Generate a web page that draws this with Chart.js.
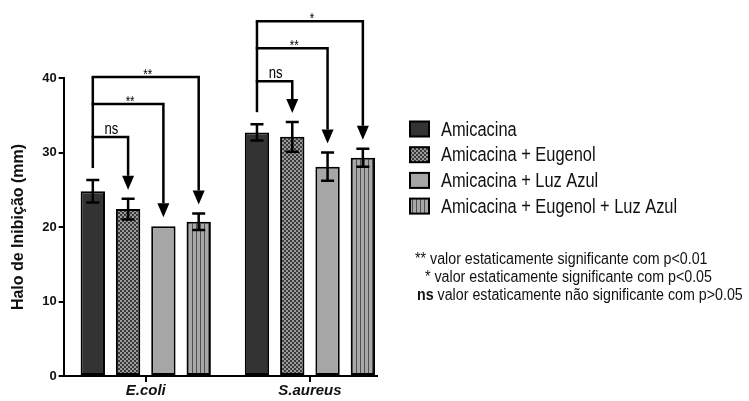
<!DOCTYPE html>
<html lang="pt">
<head>
<meta charset="UTF-8">
<title>Halo de Inibição</title>
<script src="https://cdn.jsdelivr.net/npm/chart.js"></script>
<style>
  html, body { margin: 0; padding: 0; background: #fff; }
</style>
</head>
<body>
<canvas id="haloChart" width="749" height="401"></canvas>
<script>
  const categorias = ['E.coli', 'S.aureus'];
  const series = ['Amicacina', 'Amicacina + Eugenol', 'Amicacina + Luz Azul', 'Amicacina + Eugenol + Luz Azul'];
  const amicacina = [24.8, 32.7];
  const amicacinaEugenol = [22.4, 32.1];
  const amicacinaLuz = [20.1, 28.1];
  const amicacinaEugenolLuz = [20.7, 29.3];
  const erroAmicacina = [1.5, 1.1];
  const erroEugenol = [1.4, 2.0];
  const erroLuz = [0, 1.9];
  const erroEugenolLuz = [1.1, 1.2];
  const yTicks = [0, 10, 20, 30, 40];
  const signif = [['ns', '**', '**'], ['ns', '**', '*']];
  const notas = [
    ['**', ' valor estaticamente significante com p<0.01'],
    ['*', ' valor estaticamente significante com p<0.05'],
    ['ns', ' valor estaticamente não significante com p>0.05']
  ];

  const valores = [amicacina, amicacinaEugenol, amicacinaLuz, amicacinaEugenolLuz];
  const erros = [erroAmicacina, erroEugenol, erroLuz, erroEugenolLuz];
  const SANS = "'Liberation Sans', Arial, sans-serif";

  // texto "condensado" (não há Arial Narrow instalada)
  function textoEstreito(ctx, txt, x, y, sx) {
    ctx.save();
    ctx.translate(x, y);
    ctx.scale(sx || 0.82, 1);
    ctx.fillText(txt, 0, 0);
    ctx.restore();
  }

  function padrao(tipo) {
    const c = document.createElement('canvas');
    c.width = 4; c.height = 4;
    const g = c.getContext('2d');
    if (tipo === 'xadrez') {
      g.fillStyle = '#3a3a3a'; g.fillRect(0, 0, 4, 4);
      g.fillStyle = '#9a9a9a'; g.fillRect(0, 0, 2, 2); g.fillRect(2, 2, 2, 2);
    } else {
      g.fillStyle = '#a8a8a8'; g.fillRect(0, 0, 4, 4);
      g.fillStyle = '#505050'; g.fillRect(0, 0, 1, 4);
    }
    return g.createPattern(c, 'repeat');
  }

  const cores = ['#333333', padrao('xadrez'), '#a6a6a6', padrao('listras')];

  const errorBars = {
    id: 'errorBars',
    afterDatasetsDraw(chart) {
      const ctx = chart.ctx, y = chart.scales.y;
      ctx.save();
      ctx.strokeStyle = '#000';
      ctx.lineWidth = 2.5;
      valores.forEach((serie, i) => {
        chart.getDatasetMeta(i).data.forEach((bar, j) => {
          const e = erros[i][j];
          if (!e) return;
          const t = y.getPixelForValue(serie[j] + e), b = y.getPixelForValue(serie[j] - e);
          ctx.beginPath();
          ctx.moveTo(bar.x, t); ctx.lineTo(bar.x, b);
          ctx.moveTo(bar.x - 6.5, t); ctx.lineTo(bar.x + 6.5, t);
          ctx.moveTo(bar.x - 6.5, b); ctx.lineTo(bar.x + 6.5, b);
          ctx.stroke();
        });
      });
      ctx.restore();
    }
  };

  const brackets = {
    id: 'brackets',
    afterDraw(chart) {
      const ctx = chart.ctx, y = chart.scales.y;
      const niveis = [31, 64, 91];
      ctx.save();
      ctx.strokeStyle = '#000';
      ctx.fillStyle = '#000';
      ctx.lineWidth = 2.5;
      ctx.lineJoin = 'miter';
      categorias.forEach((cat, j) => {
        const b0 = chart.getDatasetMeta(0).data[j];
        const y0 = y.getPixelForValue(valores[0][j] + erros[0][j]) - 12;
        ctx.beginPath();
        ctx.moveTo(b0.x, y0); ctx.lineTo(b0.x, y0 - niveis[2]);
        ctx.stroke();
        for (let k = 1; k < 4; k++) {
          const bk = chart.getDatasetMeta(k).data[j];
          const ly = y0 - niveis[k - 1];
          const tip = y.getPixelForValue(valores[k][j] + erros[k][j]) - 9;
          const base = tip - 14;
          ctx.beginPath();
          ctx.moveTo(b0.x - 1.2, ly); ctx.lineTo(bk.x, ly); ctx.lineTo(bk.x, base);
          ctx.stroke();
          ctx.beginPath();
          ctx.moveTo(bk.x - 6, base); ctx.lineTo(bk.x + 6, base); ctx.lineTo(bk.x, tip);
          ctx.closePath(); ctx.fill();
          const lab = signif[j][k - 1];
          ctx.font = (lab === 'ns' ? '16px ' : '14px ') + SANS;
          ctx.textAlign = 'center';
          ctx.textBaseline = 'alphabetic';
          textoEstreito(ctx, lab, (b0.x + bk.x) / 2 + (lab === 'ns' ? 1 : 2), lab === 'ns' ? ly - 3 : ly + 2);
        }
      });
      ctx.restore();
    }
  };

  const legendaNotas = {
    id: 'legendaNotas',
    afterDraw(chart) {
      const ctx = chart.ctx;
      const area = chart.chartArea;
      ctx.save();
      // eixo x só até a última barra
      const last = chart.getDatasetMeta(3).data[1];
      ctx.strokeStyle = '#000'; ctx.lineWidth = 2;
      ctx.beginPath();
      ctx.moveTo(area.left - 1, area.bottom); ctx.lineTo(last.x + last.width / 2 + 3, area.bottom);
      ctx.stroke();

      series.forEach((s, i) => {
        const cy = 129 + i * 25.7;
        ctx.fillStyle = cores[i];
        ctx.fillRect(410, cy - 7.5, 19, 15);
        ctx.strokeStyle = '#000'; ctx.lineWidth = 2;
        ctx.strokeRect(410, cy - 7.5, 19, 15);
        ctx.fillStyle = '#111';
        ctx.font = '20px ' + SANS;
        ctx.textAlign = 'left'; ctx.textBaseline = 'middle';
        textoEstreito(ctx, s, 441, cy + 1);
      });

      const nx = [415, 425, 417];
      notas.forEach((n, i) => {
        const by = 264 + i * 18;
        ctx.textAlign = 'left';
        ctx.textBaseline = 'alphabetic';
        ctx.fillStyle = '#111';
        ctx.font = (n[0] === 'ns' ? 'bold ' : '') + '16px ' + SANS;
        textoEstreito(ctx, n[0], nx[i], by, 0.89);
        const w = ctx.measureText(n[0]).width * 0.89;
        ctx.font = '16px ' + SANS;
        textoEstreito(ctx, n[1], nx[i] + w, by, 0.89);
      });
      ctx.restore();
    }
  };

  new Chart(document.getElementById('haloChart'), {
    type: 'bar',
    data: {
      labels: categorias,
      datasets: series.map((s, i) => ({
        label: s,
        data: valores[i],
        backgroundColor: cores[i],
        borderColor: '#000',
        borderWidth: 2,
        borderSkipped: false,
        categoryPercentage: 0.86,
        barPercentage: 0.69
      }))
    },
    options: {
      responsive: false,
      animation: false,
      layout: { padding: { left: 7, right: 357, top: 78, bottom: 1 } },
      plugins: { legend: { display: false }, tooltip: { enabled: false } },
      scales: {
        x: {
          offset: true,
          border: { display: false },
          grid: { display: true, drawOnChartArea: false, offset: false, tickLength: 6, color: '#000', lineWidth: 2 },
          ticks: { color: '#111', padding: 0, font: { family: SANS, size: 15, weight: 'bold', style: 'italic' } }
        },
        y: {
          min: 0,
          max: 40,
          afterBuildTicks: scale => { scale.ticks = yTicks.map(v => ({ value: v })); },
          border: { display: true, color: '#000', width: 2 },
          grid: { display: true, drawOnChartArea: false, tickLength: 5, color: '#000', lineWidth: 2 },
          ticks: { color: '#111', padding: 2, font: { family: SANS, size: 13, weight: 'bold' } },
          title: {
            display: true,
            text: 'Halo de Inibição (mm)',
            color: '#111',
            padding: { top: 2, bottom: 12 },
            font: { family: SANS, size: 16, weight: 'bold' }
          }
        }
      }
    },
    plugins: [errorBars, brackets, legendaNotas]
  });
</script>
</body>
</html>
